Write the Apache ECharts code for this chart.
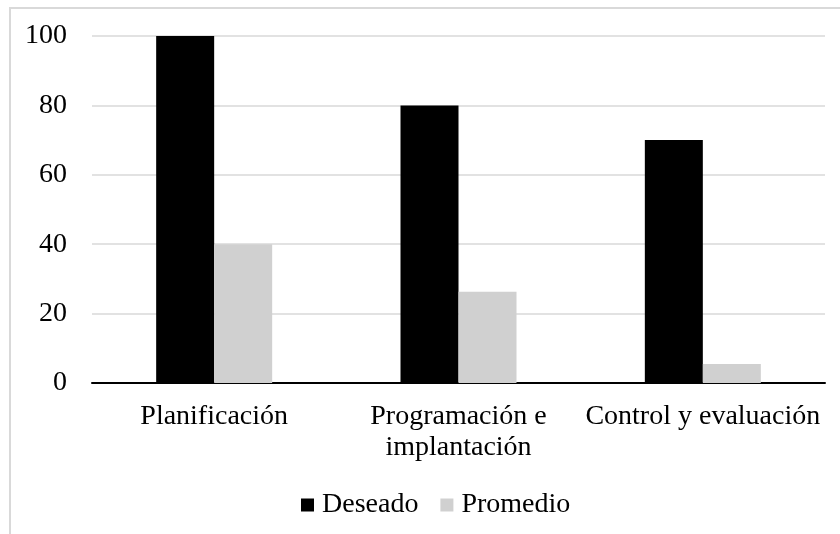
<!DOCTYPE html>
<html>
<head>
<meta charset="utf-8">
<script src="https://cdn.jsdelivr.net/npm/echarts@6/dist/echarts.min.js"></script>
<style>
  html, body { margin: 0; padding: 0; background: #ffffff; }
  #chart { width: 840px; height: 534px; }
</style>
</head>
<body>
<div id="chart"></div>
<script>
// Categories and values
const categories = ['Planificación', 'Programación e\nimplantación', 'Control y evaluación'];
const deseado = [100, 80, 70];
const promedio = [40, 26.3, 5.5];
const yTicks = { min: 0, max: 100, interval: 20 };

const FONT = 'Liberation Serif';

const chart = echarts.init(document.getElementById('chart'), null, { renderer: 'canvas' });

chart.setOption({
  backgroundColor: '#ffffff',
  animation: false,
  graphic: [{
    type: 'rect',
    shape: { x: 10, y: 8, width: 900, height: 600 },
    style: { fill: 'none', stroke: '#d9d9d9', lineWidth: 2 },
    silent: true,
    z: -1
  }],
  grid: { left: 92, right: 15, top: 36, bottom: 151, containLabel: false },
  legend: {
    left: 296,
    top: 486,
    itemWidth: 13,
    itemHeight: 13,
    itemGap: 22,
    icon: 'rect',
    textStyle: { fontFamily: FONT, fontSize: 28, color: '#000000', padding: [0, 0, 0, 3] },
    data: ['Deseado', 'Promedio']
  },
  xAxis: {
    type: 'category',
    data: categories,
    axisLine: { show: true, lineStyle: { color: '#000000', width: 2 } },
    axisTick: { show: false },
    axisLabel: {
      interval: 0,
      margin: 18,
      fontFamily: FONT,
      fontSize: 28,
      lineHeight: 31,
      color: '#000000',
      align: 'center'
    }
  },
  yAxis: {
    type: 'value',
    min: yTicks.min,
    max: yTicks.max,
    interval: yTicks.interval,
    axisLine: { show: false },
    axisTick: { show: false },
    splitLine: { lineStyle: { color: '#d9d9d9', width: 1.5 } },
    axisLabel: {
      margin: 25,
      fontFamily: FONT,
      fontSize: 28,
      color: '#000000'
    }
  },
  series: [
    {
      name: 'Deseado',
      type: 'bar',
      data: deseado,
      barWidth: 58,
      barGap: '0%',
      itemStyle: { color: '#000000' }
    },
    {
      name: 'Promedio',
      type: 'bar',
      data: promedio,
      barWidth: 58,
      barGap: '0%',
      itemStyle: { color: '#d0d0d0' }
    }
  ]
});
</script>
</body>
</html>
